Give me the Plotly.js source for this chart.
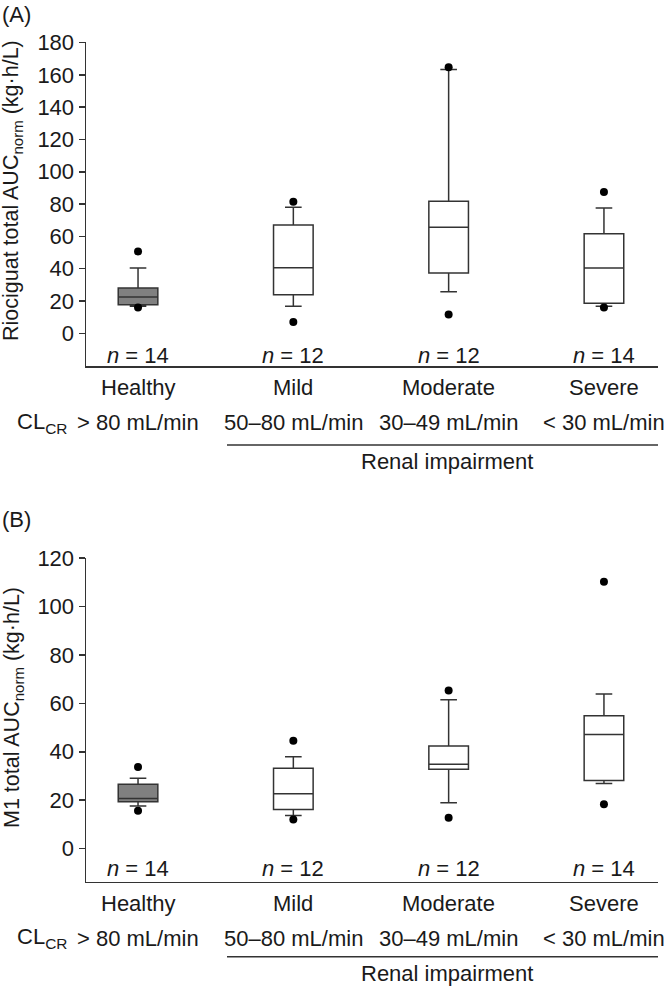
<!DOCTYPE html>
<html>
<head>
<meta charset="utf-8">
<script src="https://cdn.plot.ly/plotly-3.0.1.min.js"></script>
<style>html,body{margin:0;padding:0;background:#fff;}#chart{width:666px;height:989px;}</style>
</head>
<body>
<div id="chart"></div>
<script>
// ---- data ----
const categories = ['Healthy', 'Mild', 'Moderate', 'Severe'];
const clcrLabels = ['> 80 mL/min', '50–80 mL/min', '30–49 mL/min', '< 30 mL/min'];
const nLabels = [14, 12, 12, 14];

// Panel A: riociguat total AUCnorm
const aQ1 = [17.7, 23.9, 37.3, 18.7];
const aMedian = [22.5, 40.6, 65.7, 40.4];
const aQ3 = [28.0, 67.0, 81.8, 61.6];
const aLower = [16.7, 16.7, 25.7, 16.7];
const aUpper = [40.4, 78.1, 163.3, 77.5];
const aOutlierX = ['Healthy', 'Healthy', 'Mild', 'Mild', 'Moderate', 'Moderate', 'Severe', 'Severe'];
const aOutlierY = [50.7, 16.0, 81.4, 7.0, 164.7, 11.7, 87.4, 16.0];
const aTicks = [0, 20, 40, 60, 80, 100, 120, 140, 160, 180];

// Panel B: M1 total AUCnorm
const bQ1 = [19.3, 16.1, 32.8, 28.1];
const bMedian = [20.7, 22.6, 34.8, 47.1];
const bQ3 = [26.6, 33.2, 42.4, 54.9];
const bLower = [17.6, 13.7, 18.9, 26.9];
const bUpper = [29.1, 37.9, 61.5, 63.9];
const bOutlierX = ['Healthy', 'Healthy', 'Mild', 'Mild', 'Moderate', 'Moderate', 'Severe', 'Severe'];
const bOutlierY = [33.7, 15.6, 44.5, 12.0, 65.3, 12.7, 110.3, 18.3];
const bTicks = [0, 20, 40, 60, 80, 100, 120];

// ---- styling / layout helpers ----
const W = 666, H = 989;
const FONT = 'Liberation Sans, Arial, Helvetica, sans-serif';
const FS = 22;
const TFS = 21.5;
const INK = '#1a1a1a';
const LINE = '#333333';
const px = v => v / W;
const py = v => 1 - v / H;

function boxTraces(q1, med, q3, lo, hi, xa, ya) {
  const common = {
    type: 'box', xaxis: xa, yaxis: ya, boxpoints: false,
    line: {color: LINE, width: 1.5}, width: 0.255, whiskerwidth: 0.42,
    hoverinfo: 'skip', showlegend: false
  };
  return [
    Object.assign({}, common, {
      x: categories.slice(0, 1), q1: q1.slice(0, 1), median: med.slice(0, 1), q3: q3.slice(0, 1),
      lowerfence: lo.slice(0, 1), upperfence: hi.slice(0, 1), fillcolor: '#808080'
    }),
    Object.assign({}, common, {
      x: categories.slice(1), q1: q1.slice(1), median: med.slice(1), q3: q3.slice(1),
      lowerfence: lo.slice(1), upperfence: hi.slice(1), fillcolor: '#ffffff'
    })
  ];
}
function outlierTrace(x, y, xa, ya) {
  return {type: 'scatter', mode: 'markers', x: x, y: y, xaxis: xa, yaxis: ya,
    marker: {color: '#000', size: 8}, hoverinfo: 'skip', showlegend: false, cliponaxis: false};
}

const data = [].concat(
  boxTraces(aQ1, aMedian, aQ3, aLower, aUpper, 'x', 'y'),
  [outlierTrace(aOutlierX, aOutlierY, 'x', 'y')],
  boxTraces(bQ1, bMedian, bQ3, bLower, bUpper, 'x2', 'y2'),
  [outlierTrace(bOutlierX, bOutlierY, 'x2', 'y2')]
);

const xDomain = [px(86), px(658)];
const xRange = [-0.335, 3.348];
function xAxis(anchor) {
  return {domain: xDomain, anchor: anchor, type: 'category', categoryarray: categories,
    categoryorder: 'array', range: xRange, showline: true, linecolor: LINE, linewidth: 1.5,
    ticks: '', showticklabels: false, showgrid: false, zeroline: false, fixedrange: true};
}
function yAxis(anchor, dom, range, ticks) {
  return {domain: dom, anchor: anchor, range: range, tickmode: 'array', tickvals: ticks,
    ticktext: ticks.map(String), ticks: 'outside', ticklen: 6, tickwidth: 1.5, tickcolor: LINE,
    showline: true, linecolor: LINE, linewidth: 1.5, showgrid: false, zeroline: false,
    tickfont: {family: FONT, size: FS, color: INK}, fixedrange: true};
}

const annotations = [];
const shapes = [];
function panelText(xa, tag, tagY, title, titleY, nY, catY, clY, ulY, renalY) {
  annotations.push({xref: 'paper', yref: 'paper', x: 0, y: py(tagY), xanchor: 'left', yanchor: 'middle',
    text: tag, showarrow: false, font: {family: FONT, size: FS, color: INK}});
  annotations.push({xref: 'paper', yref: 'paper', x: px(13), y: py(titleY), xanchor: 'center', yanchor: 'middle',
    textangle: -90, text: title, showarrow: false, font: {family: FONT, size: TFS, color: INK}});
  categories.forEach((c, i) => {
    annotations.push({xref: xa, yref: 'paper', x: c, y: py(nY), xanchor: 'center', yanchor: 'middle',
      text: '<i>n</i> = ' + nLabels[i], showarrow: false, font: {family: FONT, size: FS, color: INK}});
    annotations.push({xref: xa, yref: 'paper', x: c, y: py(catY), xanchor: 'center', yanchor: 'middle',
      text: c, showarrow: false, font: {family: FONT, size: FS, color: INK}});
    annotations.push({xref: xa, yref: 'paper', x: c, y: py(clY), xanchor: 'center', yanchor: 'middle',
      text: clcrLabels[i], showarrow: false, font: {family: FONT, size: FS, color: INK}});
  });
  annotations.push({xref: 'paper', yref: 'paper', x: px(15), y: py(clY), xanchor: 'left', yanchor: 'middle',
    text: 'CL<sub>CR</sub>', showarrow: false, font: {family: FONT, size: FS, color: INK}});
  annotations.push({xref: 'paper', yref: 'paper', x: px(447), y: py(renalY), xanchor: 'center', yanchor: 'middle',
    text: 'Renal impairment', showarrow: false, font: {family: FONT, size: FS, color: INK}});
  shapes.push({type: 'line', xref: 'paper', yref: 'paper', x0: px(227), x1: px(658), y0: py(ulY), y1: py(ulY),
    line: {color: LINE, width: 1.5}});
}
panelText('x', '(A)', 14, 'Riociguat total AUC<sub>norm</sub> (kg·h/L)', 191, 355, 388, 423, 445, 461);
panelText('x2', '(B)', 519, 'M1 total AUC<sub>norm</sub> (kg·h/L)', 708, 868, 903, 938, 956.7, 973);

const layout = {
  width: W, height: H, margin: {l: 0, r: 0, t: 0, b: 0, pad: 0},
  paper_bgcolor: '#fff', plot_bgcolor: '#fff', showlegend: false,
  font: {family: FONT, size: FS, color: INK},
  xaxis: xAxis('y'),
  yaxis: yAxis('x', [py(366), py(42)], [-20.2, 180.3], aTicks),
  xaxis2: xAxis('y2'),
  yaxis2: yAxis('x2', [py(881.7), py(557.7)], [-13.7, 120.2], bTicks),
  annotations: annotations, shapes: shapes
};

Plotly.newPlot('chart', data, layout, {displayModeBar: false, staticPlot: true});
</script>
</body>
</html>
